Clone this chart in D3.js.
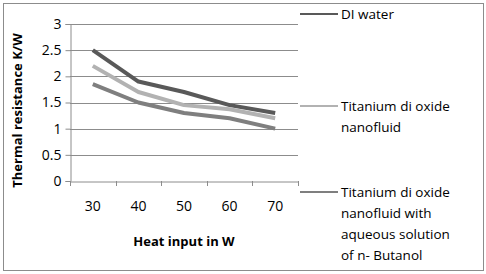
<!DOCTYPE html>
<html>
<head>
<meta charset="utf-8">
<script src="https://cdn.jsdelivr.net/npm/d3@7"></script>
<style>
  body { margin: 0; background: #fff; }
  text { font-family: "Open Sans", sans-serif; fill: #000; }
</style>
</head>
<body>
<div id="container"></div>
<script>
/* DATA */
const heatInput = [30, 40, 50, 60, 70];
const diWater = [2.5, 1.9, 1.7, 1.45, 1.3];
const tio2Nanofluid = [2.2, 1.7, 1.45, 1.37, 1.2];
const tio2Butanol = [1.85, 1.5, 1.3, 1.2, 1.0];
const yTicks = [0, 0.5, 1, 1.5, 2, 2.5, 3];

const series = [
  { name: ["DI water"], values: diWater, color: "#595959", legendY: 14 },
  { name: ["Titanium di oxide", "nanofluid"], values: tio2Nanofluid, color: "#b2b2b2", legendY: 106 },
  { name: ["Titanium di oxide", "nanofluid with", "aqueous solution", "of n- Butanol"], values: tio2Butanol, color: "#7f7f7f", legendY: 192 }
];

/* CONSTANTS */
const width = 486, height = 274;
const plot = { left: 70, right: 298, top: 24, bottom: 181 };

const svg = d3.select("#container")
  .append("svg")
  .attr("width", width)
  .attr("height", height);

// outer frame
svg.append("rect")
  .attr("x", 3.5).attr("y", 3.5)
  .attr("width", 480).attr("height", 267)
  .attr("fill", "none")
  .attr("stroke", "#8c8c8c")
  .attr("stroke-width", 1);

// SCALES
const x = d3.scaleBand()
  .domain(heatInput)
  .range([plot.left, plot.right]);

const y = d3.scaleLinear()
  .domain([0, 3])
  .range([plot.bottom, plot.top]);

// gridlines
svg.append("g")
  .selectAll("line")
  .data(yTicks.filter(d => d > 0))
  .join("line")
  .attr("x1", plot.left).attr("x2", plot.right)
  .attr("y1", d => Math.round(y(d)) + 0.5)
  .attr("y2", d => Math.round(y(d)) + 0.5)
  .attr("stroke", "#8c8c8c");

// y axis
const yAxis = svg.append("g")
  .attr("transform", `translate(${plot.left + 0.5},0)`)
  .call(d3.axisLeft(y).tickValues(yTicks).tickSize(5).tickPadding(4).tickFormat(d3.format("")));
yAxis.select(".domain").attr("stroke", "#8c8c8c");
yAxis.selectAll(".tick line").attr("stroke", "#8c8c8c");
yAxis.selectAll(".tick text").attr("font-size", 14).attr("font-family", "Open Sans").attr("fill", "#000");

// x axis
const xAxis = svg.append("g")
  .attr("transform", `translate(0,${Math.round(plot.bottom) + 0.5})`)
  .call(d3.axisBottom(x).tickSize(0).tickPadding(20));
xAxis.select(".domain").attr("stroke", "#8c8c8c");
xAxis.selectAll(".tick text").attr("font-size", 14).attr("font-family", "Open Sans").attr("fill", "#000");

// category separator ticks
svg.append("g")
  .selectAll("line")
  .data(heatInput.map(d => x(d)).concat([plot.right]))
  .join("line")
  .attr("x1", d => Math.round(d) + 0.5).attr("x2", d => Math.round(d) + 0.5)
  .attr("y1", plot.bottom).attr("y2", plot.bottom + 5)
  .attr("stroke", "#8c8c8c");

// axis titles
svg.append("text")
  .attr("x", (plot.left + plot.right) / 2)
  .attr("y", 246)
  .attr("text-anchor", "middle")
  .attr("font-size", 13)
  .attr("font-weight", "bold")
  .text("Heat input in W");

svg.append("text")
  .attr("transform", `translate(22,${(plot.top + plot.bottom) / 2 + 8}) rotate(-90)`)
  .attr("text-anchor", "middle")
  .attr("font-size", 13)
  .attr("font-weight", "bold")
  .text("Thermal resistance K/W");

// LINES
const line = d3.line()
  .x((d, i) => x(heatInput[i]) + x.bandwidth() / 2)
  .y(d => y(d));

svg.append("g")
  .selectAll("path")
  .data(series)
  .join("path")
  .attr("d", d => line(d.values))
  .attr("fill", "none")
  .attr("stroke", d => d.color)
  .attr("stroke-width", 4)
  .attr("stroke-linejoin", "round");

// LEGEND
const legend = svg.append("g")
  .selectAll("g")
  .data(series)
  .join("g")
  .attr("transform", d => `translate(300,${d.legendY})`);

legend.append("line")
  .attr("x1", 0).attr("x2", 38)
  .attr("stroke", d => d.color)
  .attr("stroke-width", 2);

legend.append("text")
  .attr("x", 41)
  .attr("font-size", 13.5)
  .selectAll("tspan")
  .data(d => d.name)
  .join("tspan")
  .attr("x", 41)
  .attr("y", (d, i) => 5 + i * 21)
  .text(d => d);
</script>
</body>
</html>
